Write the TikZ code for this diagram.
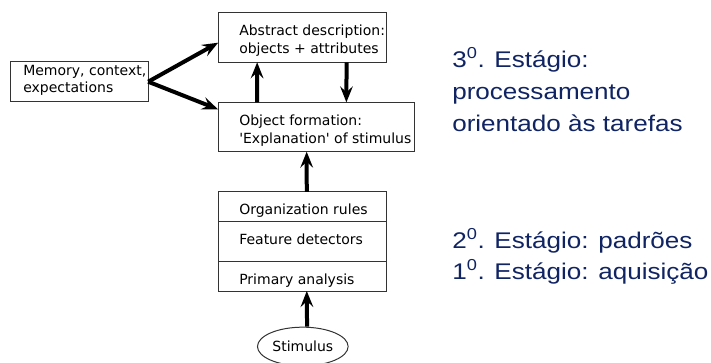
\documentclass[tikz,border=0pt]{standalone}
\usepackage{fontspec}
\setmainfont{DejaVu Sans}
\newfontfamily\boxfont{DejaVu Sans}
\newfontfamily\stagefont[FakeStretch=1.15]{Liberation Sans}
\usetikzlibrary{positioning,shapes.geometric,arrows.meta}
\definecolor{stageblue}{RGB}{16,36,100}
\tikzset{
    box/.style={rectangle, draw=black!80, line width=0.75pt, minimum width=126.5pt, inner sep=0pt, outer sep=0pt},
    boxtext/.style={inner sep=0pt, align=left, font=\boxfont\fontsize{10.5}{13}\selectfont},
    stage/.style={inner sep=0pt, align=left, text=stageblue, font=\stagefont\fontsize{17}{24}\selectfont},
    arrow/.style={draw, line width=3pt, -{Stealth[length=12pt,width=9.5pt,inset=4.5pt]}},
}

\begin{document}
\begin{tikzpicture}[x=0.75pt,y=-0.75pt]
    \useasboundingbox (0,0) rectangle (711,362);

    % boxes
    \node[box, minimum height=37.2pt] (abstract) at (302.5,37.5) {};
    \node[box, minimum width=103.5pt, minimum height=30pt] (memory) at (79.2,81.7) {};
    \node[box, minimum width=147pt, minimum height=37pt] (objform) at (316,127) {};
    \node[box, minimum height=22.3pt] (org) at (302.5,206.8) {};
    \node[box, minimum height=29.5pt, below=0pt of org] (feat) {};
    \node[box, minimum height=22.5pt, below=0pt of feat] (prim) {};
    \node[ellipse, draw=black!80, line width=0.75pt, minimum width=68pt, minimum height=29pt, inner sep=0pt, font=\boxfont\fontsize{10.5}{13}\selectfont] (stimulus) at (302.8,346.5) {Stimulus};

    % box texts
    \node[boxtext, anchor=north west] (abstract-txt) at (239,25) {Abstract description:\\objects + attributes};
    \node[boxtext, anchor=north west] (memory-txt) at (23,65) {Memory, context,\\expectations};
    \node[boxtext, anchor=north west] (objform-txt) at (239,115) {Object formation:\\'Explanation' of stimulus};
    \node[boxtext, anchor=north west] (org-txt) at (239,204) {Organization rules};
    \node[boxtext, anchor=north west] (feat-txt) at (239,234) {Feature detectors};
    \node[boxtext, anchor=north west] (prim-txt) at (239,274) {Primary analysis};

    % arrows
    \draw[arrow] (memory.east) -- ([yshift=-3.9pt]abstract.west);
    \draw[arrow] (memory.east) -- ([yshift=13.3pt]objform.west);
    \draw[arrow] ([xshift=29.25pt]objform.north west) -- ([xshift=29.25pt]abstract.south west);
    \draw[arrow] ([xshift=-30.2pt]abstract.south east) -- ([xshift=96.3pt]objform.north west);
    \draw[arrow] ([xshift=3.2pt]org.north) -- ([xshift=-7pt]objform.south);
    \draw[arrow] ([xshift=3.2pt]stimulus.north) -- ([xshift=3.2pt]prim.south);

    % stages (base = last line)
    \node[stage, anchor=base west] (stage3) at (452,131) {3\textsuperscript{0}. Estágio:\\processamento\\orientado às tarefas};
    \node[stage, anchor=base west] (stage2) at (452,248) {2\textsuperscript{0}. Estágio: padrões};
    \node[stage, anchor=base west] (stage1) at (452,279) {1\textsuperscript{0}. Estágio: aquisição};
\end{tikzpicture}
\end{document}
